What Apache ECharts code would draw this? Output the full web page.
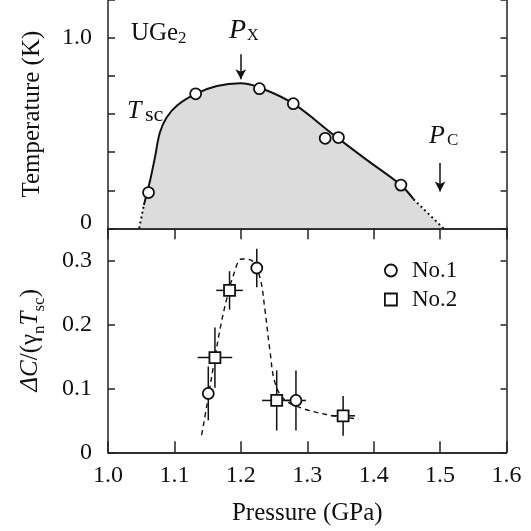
<!DOCTYPE html>
<html>
<head>
<meta charset="utf-8">
<script src="https://cdn.jsdelivr.net/npm/echarts@6/dist/echarts.min.js"></script>
<style>html,body{margin:0;padding:0;background:#fff}#c{width:531px;height:531px}</style>
</head>
<body>
<div id="c"></div>
<script>
// ---- Data ----
// Top panel: Tsc(P) guide curve
const curveP = [1.047, 1.054, 1.063, 1.071, 1.078, 1.088, 1.104, 1.132, 1.164, 1.199, 1.228, 1.279, 1.339, 1.389, 1.441, 1.460, 1.505];
const curveT = [0.000, 0.123, 0.246, 0.378, 0.502, 0.581, 0.646, 0.707, 0.748, 0.762, 0.740, 0.655, 0.493, 0.361, 0.227, 0.153, 0.000];
// Top panel: measured Tsc points
const tscP = [1.061, 1.132, 1.228, 1.279, 1.327, 1.347, 1.441];
const tscT = [0.188, 0.707, 0.734, 0.655, 0.473, 0.477, 0.227];
// Arrows (Px, Pc)
const arrowP = [1.2, 1.5];
const arrowFrom = [0.915, 0.343];
const arrowTo = [0.783, 0.193];
// Bottom panel: dashed guide curve
const dashP = [1.141, 1.149, 1.159, 1.169, 1.179, 1.189, 1.201, 1.216, 1.229, 1.236, 1.244, 1.251, 1.264, 1.289, 1.329, 1.377];
const dashV = [0.027, 0.074, 0.136, 0.194, 0.241, 0.277, 0.302, 0.300, 0.272, 0.225, 0.157, 0.110, 0.084, 0.070, 0.059, 0.052];
// Bottom panel: sample No.1 (circles)
const no1P = [1.151, 1.224, 1.283];
const no1V = [0.092, 0.288, 0.081];
const no1ErrV = [0.042, 0.030, 0.047];
const no1ErrP = [0.000, 0.000, 0.015];
// Bottom panel: sample No.2 (squares)
const no2P = [1.161, 1.183, 1.254, 1.354];
const no2V = [0.148, 0.253, 0.081, 0.057];
const no2ErrV = [0.047, 0.030, 0.047, 0.031];
const no2ErrP = [0.026, 0.020, 0.022, 0.018];
// Tick labels
const xTicks = ['1.0', '1.1', '1.2', '1.3', '1.4', '1.5', '1.6'];
const topYTickLabels = {0: '0', 1: '1.0'};
const botYTickLabels = ['0', '0.1', '0.2', '0.3'];

// ---- Build ----
const FONT = "'Liberation Serif','Times New Roman',serif";
const INK = '#111';
const zip = (a, b) => a.map((v, i) => [v, b[i]]);
const curve = zip(curveP, curveT);
const axisLine = {show: true, lineStyle: {color: '#222', width: 1.5}};

function errRender(params, api) {
  const x = api.value(0), y = api.value(1), dy = api.value(2), dx = api.value(3);
  const t = api.coord([x, y + dy]), b = api.coord([x, y - dy]);
  const style = {stroke: INK, lineWidth: 1.5};
  const ch = [{type: 'line', shape: {x1: t[0], y1: t[1], x2: b[0], y2: b[1]}, style}];
  if (dx > 0) {
    const l = api.coord([x - dx, y]), r = api.coord([x + dx, y]);
    ch.push({type: 'line', shape: {x1: l[0], y1: l[1], x2: r[0], y2: r[1]}, style});
  }
  return {type: 'group', children: ch};
}

const chart = echarts.init(document.getElementById('c'), null, {renderer: 'canvas'});
const option = {
  animation: false,
  backgroundColor: '#fff',
  textStyle: {fontFamily: FONT, color: INK},
  grid: [
    {left: 108, right: 24.5, top: 0, bottom: 302.7, outerBoundsMode: 'none', containLabel: false},
    {left: 108, right: 24.5, top: 228.3, bottom: 78.7, outerBoundsMode: 'none', containLabel: false}
  ],
  xAxis: [
    {gridIndex: 0, type: 'value', min: 1.0, max: 1.6, interval: 0.1, position: 'bottom',
     axisLine, axisTick: {show: false}, axisLabel: {show: false}, splitLine: {show: false}},
    {gridIndex: 0, type: 'value', min: 1.0, max: 1.6, interval: 0.1, position: 'top',
     axisLine, axisTick: {show: true, inside: true, length: 11, lineStyle: {color: '#222', width: 1.5}},
     axisLabel: {show: false}, splitLine: {show: false}},
    {gridIndex: 1, type: 'value', min: 1.0, max: 1.6, interval: 0.1, position: 'bottom',
     axisLine, axisTick: {show: true, inside: true, length: 11, lineStyle: {color: '#222', width: 1.5}},
     axisLabel: {show: true, margin: 11, fontSize: 24, fontFamily: FONT, color: INK, showMinLabel: true, showMaxLabel: true, hideOverlap: false,
       formatter: v => xTicks[Math.round((v - 1.0) * 10)]},
     splitLine: {show: false},
     name: 'Pressure (GPa)', nameLocation: 'middle', nameGap: 49,
     nameTextStyle: {fontSize: 25, fontFamily: FONT, color: INK}},
    {gridIndex: 1, type: 'value', min: 1.0, max: 1.6, interval: 0.1, position: 'top',
     axisLine, axisTick: {show: false}, axisLabel: {show: false}, splitLine: {show: false}}
  ],
  yAxis: [
    {gridIndex: 0, type: 'value', min: 0, max: 1.2, interval: 0.2, position: 'left',
     axisLine, axisTick: {show: true, inside: true, length: 7, lineStyle: {color: '#222', width: 1.5}},
     axisLabel: {show: true, margin: 16, fontSize: 24, fontFamily: FONT, color: INK, showMinLabel: true, showMaxLabel: true, hideOverlap: false,
       formatter: v => {
         const k = Math.round(v * 10) / 10;
         if (k === 0) return '{z|' + topYTickLabels[0] + '}';
         if (k === 1) return topYTickLabels[1];
         return '';
       },
       rich: {z: {fontSize: 24, fontFamily: FONT, color: INK, padding: [0, 0, 11, 0]}}},
     splitLine: {show: false},
     name: 'Temperature (K)', nameLocation: 'middle', nameGap: 63,
     nameTextStyle: {fontSize: 25, fontFamily: FONT, color: INK}},
    {gridIndex: 0, type: 'value', min: 0, max: 1.2, interval: 0.2, position: 'right',
     axisLine, axisTick: {show: true, inside: true, length: 6, lineStyle: {color: '#222', width: 1.5}},
     axisLabel: {show: false}, splitLine: {show: false}},
    {gridIndex: 1, type: 'value', min: 0, max: 0.35, interval: 0.1, position: 'left',
     axisLine, axisTick: {show: true, inside: true, length: 7, lineStyle: {color: '#222', width: 1.5}},
     axisLabel: {show: true, margin: 16, fontSize: 24, fontFamily: FONT, color: INK, showMinLabel: true, showMaxLabel: false, hideOverlap: false,
       formatter: v => { const i = Math.round(v * 10); return (v > 0.32) ? '' : botYTickLabels[i]; }},
     splitLine: {show: false},
     name: '{d|Δ}{i|C}{n|/(γ}{s|n}{i|T}{s|sc}{n|)}', nameLocation: 'middle', nameGap: 60,
     nameTextStyle: {fontSize: 25, fontFamily: FONT, color: INK,
       rich: {
         d: {fontSize: 25, fontFamily: FONT, color: INK, fontStyle: 'italic', lineHeight: 30, verticalAlign: 'top'},
         i: {fontSize: 25, fontFamily: FONT, color: INK, fontStyle: 'italic', lineHeight: 30, verticalAlign: 'top'},
         n: {fontSize: 25, fontFamily: FONT, color: INK, lineHeight: 30, verticalAlign: 'top'},
         s: {fontSize: 17, fontFamily: FONT, color: INK, lineHeight: 16, verticalAlign: 'bottom'}
       }}},
    {gridIndex: 1, type: 'value', min: 0, max: 0.35, interval: 0.1, position: 'right',
     axisLine, axisTick: {show: true, inside: true, length: 6, lineStyle: {color: '#222', width: 1.5}},
     axisLabel: {show: false}, splitLine: {show: false}}
  ],
  legend: {
    show: true, orient: 'vertical', left: 379, top: 254,
    itemWidth: 12, itemHeight: 12, itemGap: 6,
    formatter: name => '{t|' + name + '}',
    textStyle: {fontSize: 23, fontFamily: FONT, color: INK,
      rich: {t: {fontSize: 23, fontFamily: FONT, color: INK, padding: [0, 0, 0, 10]}}},
    itemStyle: {color: '#fff', borderColor: INK, borderWidth: 1.8},
    data: [{name: 'No.1', icon: 'circle'}, {name: 'No.2', icon: 'rect'}],
    selectedMode: false
  },
  series: [
    {type: 'line', xAxisIndex: 0, yAxisIndex: 0, data: curve, smooth: 0.35, showSymbol: false, symbol: 'none',
     lineStyle: {width: 0, opacity: 0}, areaStyle: {color: '#dcdcdc', opacity: 1}, z: 1, silent: true},
    {type: 'line', xAxisIndex: 0, yAxisIndex: 0, data: curve.slice(1, 16), smooth: 0.35, showSymbol: false, symbol: 'none',
     lineStyle: {color: INK, width: 2}, z: 3, silent: true},
    {type: 'line', xAxisIndex: 0, yAxisIndex: 0, data: curve.slice(0, 2), showSymbol: false, symbol: 'none',
     lineStyle: {color: INK, width: 2, type: [2, 3]}, z: 3, silent: true},
    {type: 'line', xAxisIndex: 0, yAxisIndex: 0, data: curve.slice(15), showSymbol: false, symbol: 'none',
     lineStyle: {color: INK, width: 2, type: [2, 3]}, z: 3, silent: true},
    {type: 'scatter', xAxisIndex: 0, yAxisIndex: 0, data: zip(tscP, tscT), symbol: 'circle', symbolSize: 11,
     itemStyle: {color: '#fff', borderColor: INK, borderWidth: 1.8, opacity: 1}, z: 5, silent: true,
     markLine: {silent: true, symbol: ['none', 'arrow'], symbolSize: [8, 10], label: {show: false},
       lineStyle: {color: INK, width: 1.5, type: 'solid'},
       data: arrowP.map((p, i) => [{coord: [p, arrowFrom[i]]}, {coord: [p, arrowTo[i]]}])}},
    {type: 'line', xAxisIndex: 2, yAxisIndex: 2, data: zip(dashP, dashV), smooth: 0.35, showSymbol: false, symbol: 'none',
     lineStyle: {color: INK, width: 1.4, type: [5, 4]}, z: 2, silent: true},
    {type: 'custom', name: 'err1', xAxisIndex: 2, yAxisIndex: 2, renderItem: errRender,
     encode: {x: 0, y: 1}, data: no1P.map((p, i) => [p, no1V[i], no1ErrV[i], no1ErrP[i]]), z: 3, silent: true},
    {type: 'custom', name: 'err2', xAxisIndex: 2, yAxisIndex: 2, renderItem: errRender,
     encode: {x: 0, y: 1}, data: no2P.map((p, i) => [p, no2V[i], no2ErrV[i], no2ErrP[i]]), z: 3, silent: true},
    {type: 'scatter', name: 'No.1', xAxisIndex: 2, yAxisIndex: 2, data: zip(no1P, no1V), symbol: 'circle', symbolSize: 11,
     itemStyle: {color: '#fff', borderColor: INK, borderWidth: 1.8, opacity: 1}, z: 5, silent: true},
    {type: 'scatter', name: 'No.2', xAxisIndex: 2, yAxisIndex: 2, data: zip(no2P, no2V), symbol: 'rect', symbolSize: 11,
     itemStyle: {color: '#fff', borderColor: INK, borderWidth: 1.8, opacity: 1}, z: 5, silent: true}
  ],
  graphic: [
    {type: 'text', x: 131, y: 33, style: {text: 'UGe', font: '25px ' + FONT, fill: INK, align: 'left', verticalAlign: 'middle'}},
    {type: 'text', x: 178, y: 39, style: {text: '2', font: '17px ' + FONT, fill: INK, align: 'left', verticalAlign: 'middle'}},
    {type: 'text', x: 229, y: 31, style: {text: 'P', font: 'italic 28px ' + FONT, fill: INK, align: 'left', verticalAlign: 'middle'}},
    {type: 'text', x: 247, y: 36, style: {text: 'X', font: '16px ' + FONT, fill: INK, align: 'left', verticalAlign: 'middle'}},
    {type: 'text', x: 127, y: 111, style: {text: 'T', font: 'italic 26px ' + FONT, fill: INK, align: 'left', verticalAlign: 'middle'}},
    {type: 'text', x: 145, y: 115, style: {text: 'sc', font: '22px ' + FONT, fill: INK, align: 'left', verticalAlign: 'middle'}},
    {type: 'text', x: 429, y: 136, style: {text: 'P', font: 'italic 26px ' + FONT, fill: INK, align: 'left', verticalAlign: 'middle'}},
    {type: 'text', x: 447, y: 141, style: {text: 'C', font: '17px ' + FONT, fill: INK, align: 'left', verticalAlign: 'middle'}}
  ]
};
chart.setOption(option);
</script>
</body>
</html>
